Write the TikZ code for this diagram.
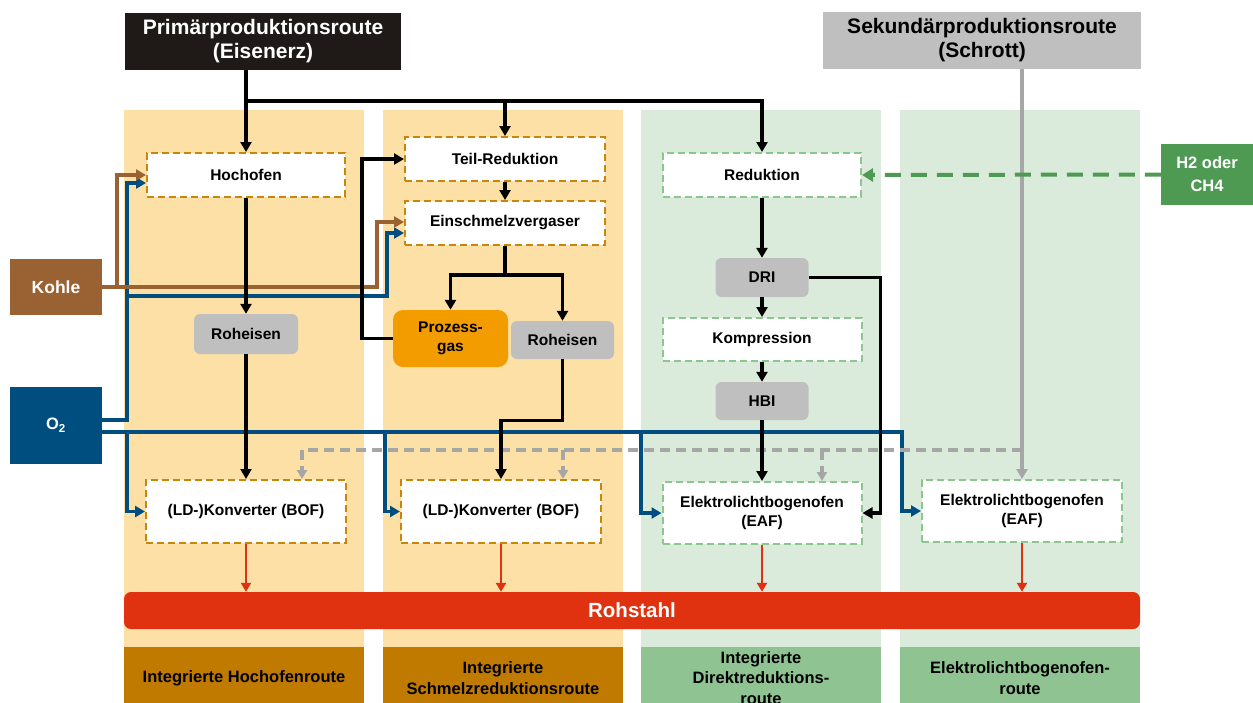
\documentclass[tikz,border=0pt]{standalone}
\usepackage{fontspec}
\setmainfont{Liberation Sans}
\usetikzlibrary{arrows.meta}
\definecolor{colO}{RGB}{253,224,166}
\definecolor{colG}{RGB}{218,235,219}
\definecolor{bordO}{RGB}{200,134,10}
\definecolor{bordG}{RGB}{140,198,143}
\definecolor{labO}{RGB}{192,122,0}
\definecolor{labG}{RGB}{143,196,146}
\definecolor{grayF}{RGB}{191,191,191}
\definecolor{prozO}{RGB}{243,156,0}
\definecolor{stahlR}{RGB}{224,50,16}
\definecolor{kohleB}{RGB}{154,98,51}
\definecolor{oxyB}{RGB}{0,77,128}
\definecolor{hydG}{RGB}{78,154,83}
\definecolor{titleD}{RGB}{31,26,23}
\definecolor{lineGr}{RGB}{166,166,166}
\newcommand\boxfont{\bfseries\fontsize{15.5}{19}\selectfont}
\begin{document}
\begin{tikzpicture}[x=1pt,y=-1pt,
  proc/.style={draw, line width=2pt, dash pattern=on 7pt off 4pt, fill=white, font=\boxfont, align=center, inner sep=0pt},
  procO/.style={proc, draw=bordO},
  procG/.style={proc, draw=bordG},
  prod/.style={fill=grayF, rounded corners=6pt, font=\boxfont, align=center, inner sep=0pt},
  side/.style={text=white, font=\bfseries\fontsize{17.5}{23}\selectfont, align=center, inner sep=0pt},
  title/.style={font=\bfseries\fontsize{21}{24}\selectfont, align=center, inner sep=0pt},
  lab/.style={font=\bfseries\fontsize{16.5}{20.5}\selectfont, align=center, inner sep=0pt, minimum width=240pt, minimum height=62pt},
  tip/.style={-{Triangle[length=10pt,width=11pt]}},
  blk/.style={line width=3.4pt, black, tip},
  blkn/.style={line width=3.4pt, black},
  blu/.style={line width=3.2pt, oxyB, tip},
  brn/.style={line width=3.2pt, kohleB, tip},
  gry/.style={line width=3.2pt, lineGr, tip},
  gryd/.style={line width=3.2pt, lineGr, dash pattern=on 10pt off 6pt},
  grnd/.style={line width=4pt, hydG, dash pattern=on 16pt off 10pt, -{Triangle[length=11pt,width=13pt]}},
  rd/.style={line width=2.8pt, stahlR, -{Triangle[length=9pt,width=10pt]}}
]
\useasboundingbox (0,0) rectangle (1253,702);
\clip (0,0) rectangle (1253,702);
% column backgrounds
\fill[colO] (124,110) rectangle (364,647);
\fill[colO] (383,110) rectangle (623,647);
\fill[colG] (641,110) rectangle (881,647);
\fill[colG] (900,110) rectangle (1140,647);
% bottom labels
\node[lab, fill=labO] (l1) at (244,678) {Integrierte Hochofenroute};
\node[lab, fill=labO] (l2) at (503,678) {Integrierte\\Schmelzreduktionsroute};
\node[lab, fill=labG] (l3) at (761,678) {Integrierte\\Direktreduktions-\\route};
\node[lab, fill=labG] (l4) at (1020,678) {Elektrolichtbogenofen-\\route};
% Rohstahl
\node[fill=stahlR, rounded corners=7pt, minimum width=1016pt, minimum height=37pt, inner sep=0pt, text=white, font=\bfseries\fontsize{20.5}{24}\selectfont] (stahl) at (632,610.5) {Rohstahl};
% titles
\node[title, fill=titleD, text=white, minimum width=276pt, minimum height=57pt] (prim) at (263,41.5) {Primärproduktionsroute\\(Eisenerz)};
\node[title, fill=grayF, text=black, minimum width=318pt, minimum height=57pt] (sek) at (982,40.5) {Sekundärproduktionsroute\\(Schrott)};
% side inputs
\node[side, fill=kohleB, minimum width=92pt, minimum height=56pt] (kohle) at (56,287) {Kohle};
\node[side, fill=oxyB, minimum width=92pt, minimum height=77pt, font=\bfseries\fontsize{16.5}{20}\selectfont] (o2) at (56,425.5) {O\textsubscript{2}};
\node[side, fill=hydG, minimum width=92pt, minimum height=61pt, font=\bfseries\fontsize{16.5}{23}\selectfont] (h2) at (1207,174.5) {H2 oder\\CH4};
% column 1
\node[procO, minimum width=198pt, minimum height=44pt] (hoch) at (246,175) {Hochofen};
\node[prod, minimum width=104pt, minimum height=40pt] (roh1) at (246,334) {Roheisen};
\node[procO, minimum width=200pt, minimum height=63pt] (bof1) at (246,511.5) {(LD-)Konverter (BOF)};
% column 2
\node[procO, minimum width=200pt, minimum height=44pt] (teil) at (505,159) {Teil-Reduktion};
\node[procO, minimum width=200pt, minimum height=44pt] (ein) at (505,223) {Einschmelzvergaser};
\node[fill=prozO, rounded corners=10pt, font=\boxfont, align=center, inner sep=0pt, minimum width=115pt, minimum height=57pt] (proz) at (450.5,338.5) {Prozess-\\gas};
\node[prod, minimum width=103pt, minimum height=38pt] (roh2) at (562.5,340) {Roheisen};
\node[procO, minimum width=200pt, minimum height=63pt] (bof2) at (501,511.5) {(LD-)Konverter (BOF)};
% column 3
\node[procG, minimum width=198pt, minimum height=44pt] (red) at (762,175) {Reduktion};
\node[prod, minimum width=93pt, minimum height=39pt] (dri) at (762,277.5) {DRI};
\node[procG, minimum width=199pt, minimum height=43pt] (komp) at (762,339.5) {Kompression};
\node[prod, minimum width=93pt, minimum height=38pt] (hbi) at (762,401) {HBI};
\node[procG, minimum width=199pt, minimum height=62pt] (eaf3) at (762,513) {Elektrolichtbogenofen\\(EAF)};
% column 4
\node[procG, minimum width=200pt, minimum height=62pt] (eaf4) at (1022,511) {Elektrolichtbogenofen\\(EAF)};
% ---- connectors ----
% blue (O2)
\coordinate (bv) at (127,296);
\draw[blu] ([yshift=5.5pt]o2.east) -- (127,420) |- ([yshift=-8pt]hoch.west);
\draw[blu] (bv) -- (387,296) |- ([yshift=-10pt]ein.west);
\draw[blu] ([yshift=-6.5pt]o2.east) -- (902,432) |- (eaf4.west);
\coordinate (b1) at (127,432);
\coordinate (b2) at (385,432);
\coordinate (b3) at (641,432);
\draw[blu] (b1) |- (bof1.west);
\draw[blu] (b2) |- (bof2.west);
\draw[blu] (b3) |- (eaf3.west);
% brown (Kohle)
\coordinate (kv) at (117,287);
\draw[brn] (kohle.east) -- (377,287) |- ([yshift=1pt]ein.west);
\draw[brn] (kv) |- (hoch.west);
% gray (Schrott)
\draw[gry] (eaf4.north |- sek.south) -- (eaf4.north);
\coordinate (g0) at (1022,450);
\coordinate (g1) at (302,450);
\coordinate (g2) at (563,450);
\coordinate (g3) at (822,450);
\draw[gryd] (g0) -- (g1);
\draw[gryd, -{Triangle[length=9pt,width=10pt]}] (g1) -- (g1 |- bof1.north);
\draw[gryd, -{Triangle[length=9pt,width=10pt]}] (g2) -- (g2 |- bof2.north);
\draw[gryd, -{Triangle[length=9pt,width=10pt]}] (g3) -- (g3 |- eaf3.north);
% green dashed (H2)
\draw[grnd] (h2.west) -- (red.east);
% black
\coordinate (pj) at (246,101);
\draw[blk] (hoch.north |- prim.south) -- (hoch.north);
\draw[blk] (pj) -| (teil.north);
\draw[blk] (pj) -| (red.north);
\draw[blk] (hoch.south) -- (roh1.north);
\draw[blk] (roh1.south) -- (bof1.north);
\draw[blk] (teil.south) -- (ein.north);
\coordinate (ej) at (505,275);
\draw[blkn] (ein.south) -- (ej);
\draw[blk] (ej) -| (proz.north);
\draw[blk] (ej) -| (roh2.north);
\draw[blk] (proz.west) -- ++(-31,0) |- (teil.west);
\draw[blk] (roh2.south) -- ++(0,61) -| (bof2.north);
\draw[blk] (red.south) -- (dri.north);
\draw[blk] (dri.south) -- (komp.north);
\draw[blk] (komp.south) -- (hbi.north);
\draw[blk] (hbi.south) -- (eaf3.north);
\draw[blk] (dri.east) -- ++(72,0) |- (eaf3.east);
% red to Rohstahl
\draw[rd] (bof1.south) -- (bof1.south |- stahl.north);
\draw[rd] (bof2.south) -- (bof2.south |- stahl.north);
\draw[rd] (eaf3.south) -- (eaf3.south |- stahl.north);
\draw[rd] (eaf4.south) -- (eaf4.south |- stahl.north);
\end{tikzpicture}
\end{document}
